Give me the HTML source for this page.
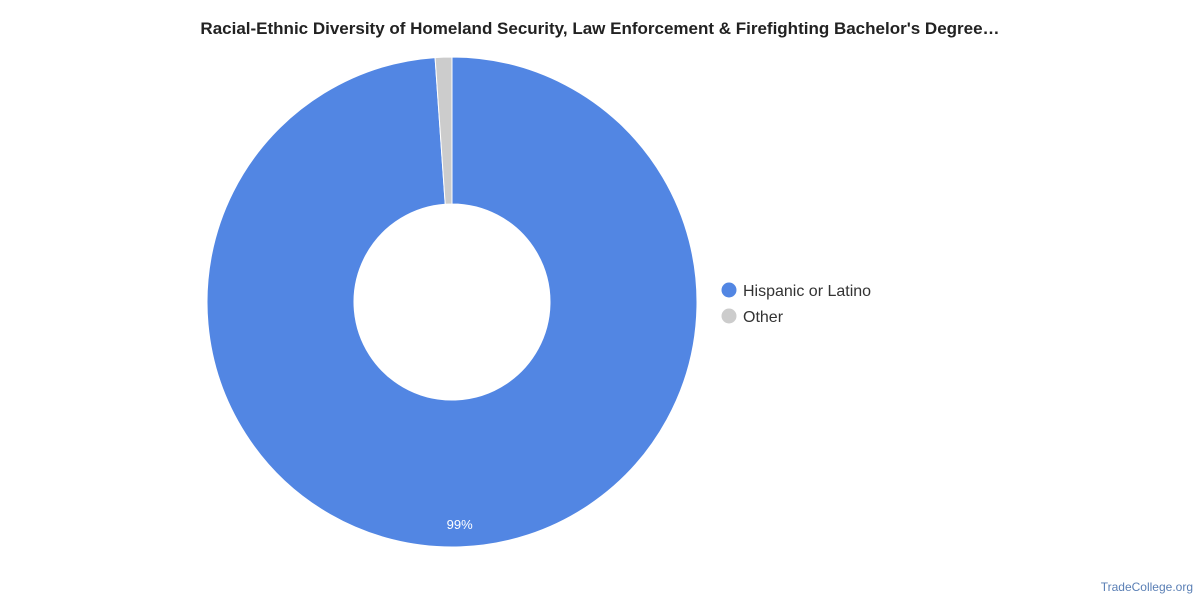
<!DOCTYPE html>
<html><head><meta charset="utf-8"><style>
body{margin:0;width:1200px;height:600px;background:#fff;font-family:"Liberation Sans",sans-serif;overflow:hidden}
</style></head><body>
<svg width="1200" height="600">
<text x="600" y="34" text-anchor="middle" font-size="17" font-weight="bold" fill="#222">Racial-Ethnic Diversity of Homeland Security, Law Enforcement &amp; Firefighting Bachelor's Degree…</text>
<g id="slices"></g>
<g>
<circle cx="729" cy="290" r="7.5" fill="#5286e3"/>
<text x="743" y="296" font-size="16" fill="#333">Hispanic or Latino</text>
<circle cx="729" cy="316" r="7.5" fill="#cccccc"/>
<text x="743" y="322" font-size="16" fill="#333">Other</text>
</g>
<text x="1193" y="591" text-anchor="end" font-size="12" fill="#5a7fb5">TradeCollege.org</text>
</svg>
<script>
const categories=["Hispanic or Latino","Other"];
const values=[98.9,1.1];
const labels=["99%",""];
const colors=["#5286e3","#cccccc"];
const cx=452,cy=302,R=245,r=98;
const g=document.getElementById('slices');
const total=values.reduce((a,b)=>a+b,0);
let a0=0;
function pt(rad,a){return [cx+rad*Math.sin(a),cy-rad*Math.cos(a)];}
values.forEach((v,i)=>{
  const a1=a0+v/total*2*Math.PI;
  const large=(a1-a0)>Math.PI?1:0;
  const [x0,y0]=pt(R,a0),[x1,y1]=pt(R,a1),[x2,y2]=pt(r,a1),[x3,y3]=pt(r,a0);
  const p=document.createElementNS('http://www.w3.org/2000/svg','path');
  p.setAttribute('d',`M${x0},${y0}A${R},${R} 0 ${large} 1 ${x1},${y1}L${x2},${y2}A${r},${r} 0 ${large} 0 ${x3},${y3}Z`);
  p.setAttribute('fill',colors[i]);p.setAttribute('stroke','#fff');p.setAttribute('stroke-width','1');
  
  
  g.appendChild(p);
  if(labels[i]){
    const m=(a0+a1)/2,[lx,ly]=pt(R-23,m);
    const t=document.createElementNS('http://www.w3.org/2000/svg','text');
    t.setAttribute('x',lx);t.setAttribute('y',ly+5);t.setAttribute('text-anchor','middle');
    t.setAttribute('font-size','13');t.setAttribute('fill','#fff');t.textContent=labels[i];
    
    
    g.appendChild(t);
  }
  a0=a1;
});
</script>
</body></html>
